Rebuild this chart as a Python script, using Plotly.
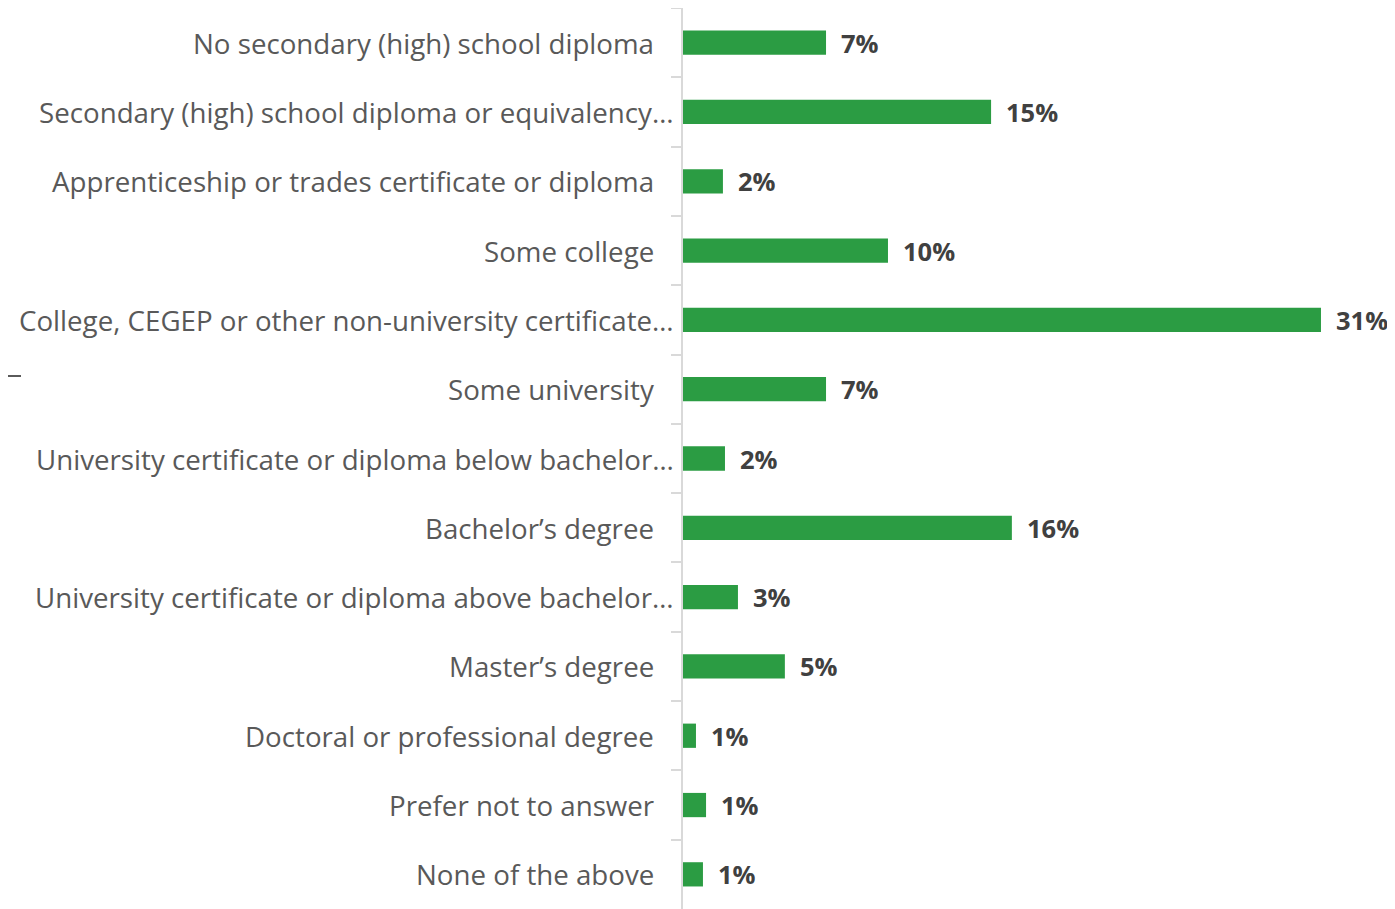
import plotly.graph_objects as go

categories = [
    "No secondary (high) school diploma",
    "Secondary (high) school diploma or equivalency…",
    "Apprenticeship or trades certificate or diploma",
    "Some college",
    "College, CEGEP or other non-university certificate…",
    "Some university",
    "University certificate or diploma below bachelor…",
    "Bachelor’s degree",
    "University certificate or diploma above bachelor…",
    "Master’s degree",
    "Doctoral or professional degree",
    "Prefer not to answer",
    "None of the above",
]
values = [6.95, 14.97, 1.94, 9.96, 31.0, 6.95, 2.04, 15.98, 2.67, 4.95, 0.63, 1.12, 0.97]
value_labels = ["7%", "15%", "2%", "10%", "31%", "7%", "2%", "16%", "3%", "5%", "1%", "1%", "1%"]

OFF = 8  # default page body margin
W, H = 1395 - OFF, 909 - OFF
L, R, T, B = 683 - OFF, 0, 8 - OFF, 0
plot_w = W - L - R
plot_h = H - T - B
px_per_unit = 20.58
xmax = plot_w / px_per_unit

BAR = "#2B9C43"
LBL = "#595959"
VAL = "#404040"
FONT = "'Open Sans', 'Noto Sans', sans-serif"

fig = go.Figure(go.Bar(
    x=values, y=categories, orientation="h",
    marker=dict(color=BAR, line=dict(width=0)),
    hoverinfo="skip",
))

annotations = []
for cat, v, lab in zip(categories, values, value_labels):
    annotations.append(dict(
        x=v, y=cat, xref="x", yref="y", text=lab, showarrow=False,
        xanchor="left", yanchor="middle", xshift=13,
        font=dict(family=FONT, size=25.5, color=VAL, weight="bold"),
    ))
    truncated = cat.endswith("…")
    right_px = 676 if truncated else 656
    annotations.append(dict(
        x=(right_px - 683) / plot_w, y=cat, xref="paper", yref="y", text=cat,
        showarrow=False, xanchor="right", yanchor="middle",
        font=dict(family=FONT, size=27.7, color=LBL),
    ))

fig.update_layout(
    width=W, height=H,
    margin=dict(l=L, r=R, t=T, b=B, pad=0),
    paper_bgcolor="white", plot_bgcolor="white",
    bargap=0.65,
    showlegend=False,
    annotations=annotations,
    xaxis=dict(range=[0, xmax], visible=False, fixedrange=True),
    yaxis=dict(
        autorange="reversed", type="category",
        showticklabels=False, showgrid=False, zeroline=False,
        showline=True, linecolor="#D9D9D9", linewidth=2,
        ticks="outside", tickson="boundaries", ticklen=10,
        tickcolor="#D9D9D9", tickwidth=2,
    ),
    shapes=[dict(
        type="line", xref="paper", yref="paper",
        x0=(8 - 683) / plot_w, x1=(21 - 683) / plot_w,
        y0=1 - (376 - 8) / plot_h, y1=1 - (376 - 8) / plot_h,
        line=dict(color="#5A5A5A", width=2),
    )],
)

fig.write_html("out.html")
